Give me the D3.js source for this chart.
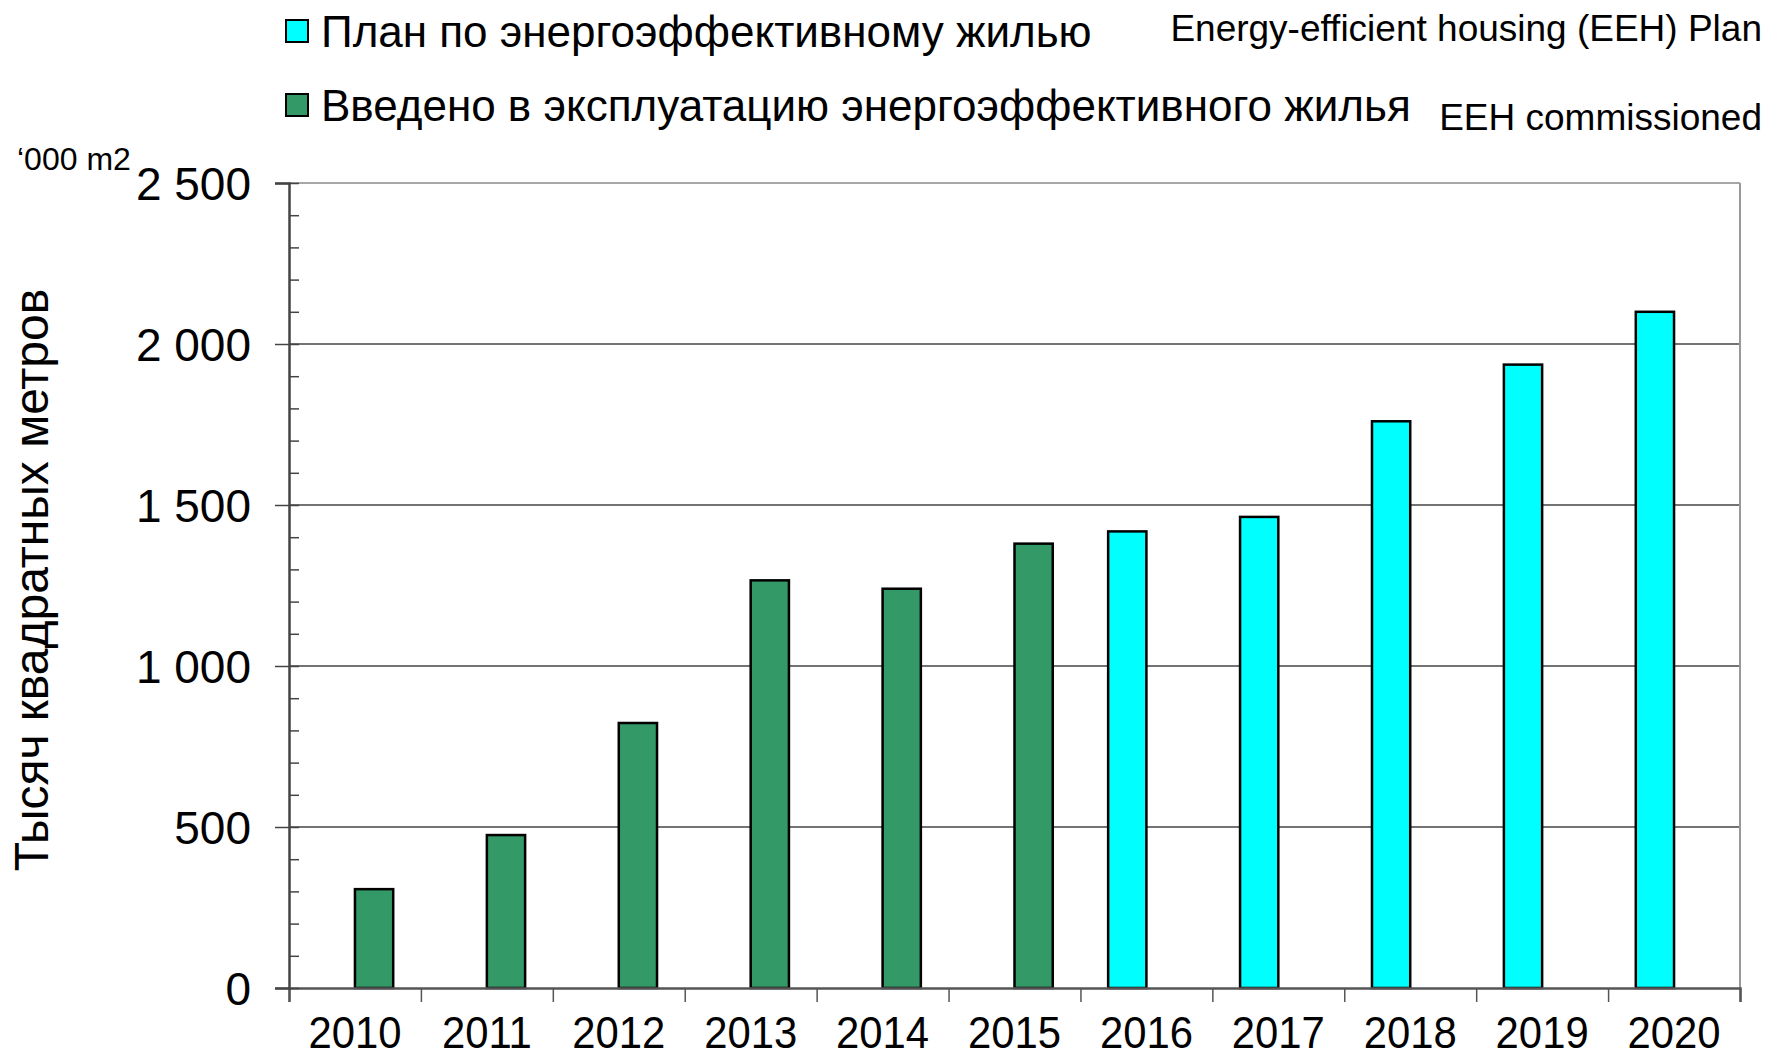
<!DOCTYPE html>
<html>
<head>
<meta charset="utf-8">
<script src="https://cdn.jsdelivr.net/npm/d3@7/dist/d3.min.js"></script>
<style>
  body { margin: 0; background: #fff; }
  text { font-family: Arial, "Liberation Sans", sans-serif; fill: #000; }
</style>
</head>
<body>
<svg id="chart"></svg>
<script>
// data
var years = ["2010", "2011", "2012", "2013", "2014", "2015", "2016", "2017", "2018", "2019", "2020"];
var planValues = [null, null, null, null, null, null, 1418, 1463, 1760, 1936, 2100];
var commissionedValues = [307, 475, 823, 1266, 1240, 1380, null, null, null, null, null];
var yTicks = [0, 500, 1000, 1500, 2000, 2500];
var seriesKeys = ["plan", "commissioned"];
var seriesNamesRu = ["План по энергоэффективному жилью", "Введено в эксплуатацию энергоэффективного жилья"];
var seriesNamesEn = ["Energy-efficient housing (EEH) Plan", "EEH commissioned"];
var yTitle = "Тысяч квадратных метров";
var unitLabel = "‘000 m2";

var W = 1772, H = 1058;
var margin = {top: 183, right: 32, bottom: 70, left: 289},
    width = W - margin.left - margin.right,
    height = H - margin.top - margin.bottom;

var colors = {plan: "#00ffff", commissioned: "#339966"};
var squeeze = 0.93; // axis numbers in the picture are a bit narrow

var svg = d3.select("#chart").attr("width", W).attr("height", H);
var g = svg.append("g").attr("transform", "translate(" + margin.left + "," + margin.top + ")");

var x0 = d3.scaleBand().domain(years).range([0, width]).paddingInner(0.42).paddingOuter(0.21);
var x1 = d3.scaleBand().domain(seriesKeys).range([0, x0.bandwidth()]);
var y = d3.scaleLinear().domain([0, 2500]).range([height, 0]);
var xEdges = d3.scaleLinear().domain([0, years.length]).range([0, width]);

var ru = d3.formatLocale({decimal: ",", thousands: " ", grouping: [3], currency: ["", ""]});
var fmt = ru.format(",d");

// gridlines
g.append("g")
  .selectAll("line")
  .data(yTicks.slice(1))
  .join("line")
  .attr("x1", 0).attr("x2", width)
  .attr("y1", function(d) { return y(d); }).attr("y2", function(d) { return y(d); })
  .attr("stroke", function(d) { return d === 2500 ? "#8a8a8a" : "#444"; })
  .attr("stroke-width", 1.5);

// right border
g.append("line")
  .attr("x1", width).attr("x2", width).attr("y1", 0).attr("y2", height)
  .attr("stroke", "#999").attr("stroke-width", 2);

// bars
var rows = years.map(function(yr, i) {
  return {year: yr, plan: planValues[i], commissioned: commissionedValues[i]};
});
var groups = g.append("g").selectAll("g")
  .data(rows)
  .join("g")
  .attr("transform", function(d) { return "translate(" + x0(d.year) + ",0)"; });
groups.selectAll("rect")
  .data(function(d) {
    return seriesKeys.filter(function(k) { return d[k] != null; })
      .map(function(k) { return {key: k, value: d[k]}; });
  })
  .join("rect")
  .attr("x", function(d) { return x1(d.key); })
  .attr("width", x1.bandwidth())
  .attr("y", function(d) { return y(d.value); })
  .attr("height", function(d) { return height - y(d.value); })
  .attr("fill", function(d) { return colors[d.key]; })
  .attr("stroke", "#000")
  .attr("stroke-width", 2.5);

// x axis: boundary ticks + labels
var xAxisG = g.append("g").attr("transform", "translate(0," + height + ")");
xAxisG.call(d3.axisBottom(xEdges).tickValues(d3.range(0, years.length + 1)).tickSize(14).tickFormat(""));
xAxisG.select(".domain").attr("stroke", "#555").attr("stroke-width", 2.5);
xAxisG.selectAll(".tick line").attr("stroke", "#555").attr("stroke-width", 1.5);

var xLab = g.append("g").attr("transform", "translate(0," + height + ")")
  .call(d3.axisBottom(x0).tickSize(0));
xLab.select(".domain").remove();
xLab.selectAll("text")
  .attr("y", 0).attr("dy", null)
  .attr("transform", "translate(0,60) scale(" + squeeze + ",1)")
  .style("font-size", "45px")
  .style("font-family", "Arial, 'Liberation Sans', sans-serif")
  .attr("fill", "#000");

// y axis: major ticks with labels, minor ticks inside
var yAxisG = g.append("g")
  .call(d3.axisLeft(y).tickValues(yTicks).tickSize(14).tickPadding(24).tickFormat(fmt));
yAxisG.select(".domain").attr("stroke", "#444").attr("stroke-width", 2.5);
yAxisG.selectAll(".tick line").attr("stroke", "#444").attr("stroke-width", 1.5);
yAxisG.selectAll("text")
  .attr("dy", "0.36em")
  .style("font-size", "46px")
  .style("font-family", "Arial, 'Liberation Sans', sans-serif")
  .attr("fill", "#000");

var yMinor = g.append("g")
  .call(d3.axisRight(y).tickValues(d3.range(0, 2501, 100)).tickSize(10).tickFormat(""));
yMinor.select(".domain").remove();
yMinor.selectAll(".tick line").attr("stroke", "#444").attr("stroke-width", 1.5);

// y title
svg.append("text")
  .attr("transform", "translate(48,580) rotate(-90)")
  .attr("text-anchor", "middle")
  .style("font-size", "48px")
  .text(yTitle);

svg.append("text")
  .attr("x", 17).attr("y", 170)
  .style("font-size", "32px")
  .text(unitLabel);

// legend
var legend = svg.append("g");
var legRows = legend.selectAll("g")
  .data(seriesKeys)
  .join("g")
  .attr("transform", function(d, i) { return "translate(286," + (20 + i * 74) + ")"; });
legRows.append("rect")
  .attr("width", 22).attr("height", 22)
  .attr("fill", function(d) { return colors[d]; })
  .attr("stroke", "#000").attr("stroke-width", 2);
legRows.append("text")
  .attr("x", 35).attr("y", 27)
  .style("font-size", "44px")
  .text(function(d, i) { return seriesNamesRu[i]; });

svg.append("g").selectAll("text")
  .data(seriesNamesEn)
  .join("text")
  .attr("text-anchor", "end")
  .attr("x", 1762)
  .attr("y", function(d, i) { return i === 0 ? 41 : 130; })
  .style("font-size", "37px")
  .text(function(d) { return d; });
</script>
</body>
</html>
